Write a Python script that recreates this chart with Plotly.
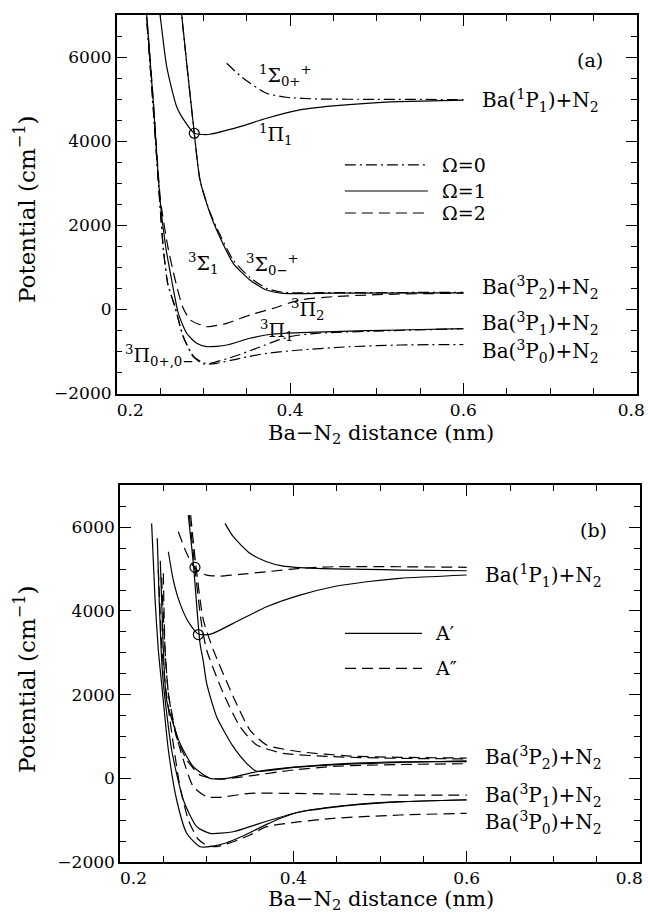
import plotly.graph_objects as go

# ---------------- data: panel (a) ----------------
a_1S0p_x = [0.3269, 0.346, 0.373, 0.396, 0.4307, 0.5, 0.6]
a_1S0p_y = [5852, 5495, 5139, 5044, 5004, 4995, 4990]

a_1P1_x = [0.2475, 0.25, 0.2577, 0.2692, 0.2788, 0.2895, 0.2961, 0.3076, 0.3422, 0.373, 0.4114, 0.4498, 0.4884, 0.5268, 0.6]
a_1P1_y = [7300, 7000, 5771, 4820, 4463, 4188, 4164, 4164, 4345, 4544, 4742, 4837, 4901, 4939, 4975]

a_3S1_x = [0.274, 0.275, 0.2895, 0.2961, 0.3076, 0.3153, 0.3345, 0.3537, 0.373, 0.3921, 0.45, 0.6]
a_3S1_y = [7300, 7000, 4188, 3077, 2285, 1888, 1096, 699, 461, 383, 385, 395]
a_3S0m_y = [7300, 7000, 4188, 3077, 2310, 1940, 1170, 760, 500, 405, 400, 405]

a_3P2_x = [0.2335, 0.2346, 0.2422, 0.2505, 0.2590, 0.2675, 0.2760, 0.2850, 0.3038, 0.3269, 0.3537, 0.3806, 0.4114, 0.4498, 0.4884, 0.5268, 0.6]
a_3P2_y = [7300, 7000, 4979, 2601, 1491, 699, 64, -252, -411, -331, -133, 26, 223, 302, 342, 366, 385]

a_3P1_x = [0.2335, 0.2346, 0.2420, 0.2500, 0.2565, 0.2634, 0.2711, 0.2807, 0.2923, 0.3038, 0.3269, 0.3537, 0.3806, 0.4114, 0.4498, 0.4884, 0.5268, 0.6]
a_3P1_y = [7300, 7000, 4979, 2601, 1491, 699, -93, -568, -806, -887, -847, -687, -585, -554, -530, -507, -490, -455]

a_3P0a_x = [0.2330, 0.2342, 0.2415, 0.2495, 0.2540, 0.2590, 0.2672, 0.2768, 0.2884, 0.2999, 0.3153, 0.3422, 0.373, 0.4114, 0.469, 0.5268, 0.6]
a_3P0a_y = [7300, 7000, 4979, 2601, 1400, 600, 64, -649, -1125, -1299, -1282, -1163, -1044, -966, -887, -847, -835]

a_3P0b_x = [0.2330, 0.2342, 0.2415, 0.2495, 0.2540, 0.2590, 0.2672, 0.2768, 0.2884, 0.2999, 0.3076, 0.3345, 0.3614, 0.3845, 0.4037, 0.4306, 0.5, 0.6]
a_3P0b_y = [7300, 7000, 4979, 2601, 1400, 600, 64, -649, -1110, -1270, -1282, -1125, -925, -744, -633, -568, -515, -460]

a_circ_x = [0.2895]
a_circ_y = [4188]

# ---------------- data: panel (b) ----------------
b_1_x = [0.3212, 0.3307, 0.35, 0.3692, 0.3884, 0.427, 0.4846, 0.523, 0.6]
b_1_y = [6095, 5775, 5378, 5177, 5074, 5019, 4996, 4979, 4962]

b_2_x = [0.2673, 0.2769, 0.2865, 0.3, 0.3154, 0.3385, 0.3692, 0.4077, 0.4461, 0.523, 0.6]
b_2_y = [5894, 5378, 5019, 4859, 4835, 4876, 4938, 5019, 5058, 5058, 5045]

b_3_x = [0.2558, 0.2615, 0.2692, 0.2788, 0.2904, 0.3038, 0.3307, 0.3692, 0.4077, 0.4461, 0.4846, 0.523, 0.6]
b_3_y = [5416, 4740, 4183, 3743, 3450, 3440, 3705, 4102, 4381, 4580, 4699, 4780, 4860]

b_4_x = [0.2788, 0.2846, 0.2923, 0.2961, 0.3, 0.3115, 0.3307, 0.3461, 0.3577, 0.4, 0.45, 0.6]
b_4_y = [6293, 5139, 3230, 2800, 2271, 1473, 756, 359, 170, 260, 330, 420]

b_11_x = [0.2800, 0.2860, 0.2940, 0.3, 0.3192, 0.3385, 0.3577, 0.3884, 0.4461, 0.523, 0.6]
b_11_y = [6293, 5100, 3700, 3067, 2032, 1234, 796, 598, 517, 478, 465]

b_12_x = [0.2815, 0.2875, 0.2960, 0.3077, 0.3307, 0.35, 0.3692, 0.4077, 0.4654, 0.523, 0.6]
b_12_y = [6293, 5100, 3800, 3067, 1951, 1155, 796, 636, 533, 502, 485]

b_6_x = [0.2465, 0.2485, 0.2500, 0.2538, 0.2692, 0.2846, 0.3038, 0.323, 0.3577, 0.4077, 0.4654, 0.523, 0.6]
b_6_y = [5200, 4000, 3067, 1872, 837, 278, 0, 0, 158, 278, 359, 397, 400]

b_6d_x = [0.2480, 0.2520, 0.2560, 0.2650, 0.2769, 0.2923, 0.3154, 0.35, 0.4, 0.45, 0.523, 0.6]
b_6d_y = [4800, 3067, 2000, 1000, 450, 80, -20, 60, 200, 290, 330, 350]

b_7_x = [0.2500, 0.2520, 0.2560, 0.2654, 0.2731, 0.2846, 0.3, 0.3154, 0.35, 0.3884, 0.4461, 0.523, 0.6]
b_7_y = [4900, 3067, 2000, 1000, 438, -200, -439, -454, -358, -358, -375, -399, -400]

b_8_x = [0.243, 0.2450, 0.2475, 0.25, 0.2596, 0.2731, 0.2885, 0.3038, 0.3307, 0.3615, 0.4077, 0.4654, 0.523, 0.6]
b_8_y = [5737, 4400, 3067, 2271, 677, -518, -1156, -1314, -1276, -1075, -798, -638, -559, -518]

b_9_x = [0.2365, 0.2404, 0.2442, 0.2480, 0.2558, 0.2654, 0.277, 0.2923, 0.3077, 0.323, 0.3384, 0.3538, 0.3692, 0.3884, 0.4077, 0.4654, 0.523, 0.6]
b_9_y = [6095, 4300, 3067, 2271, 677, -518, -1314, -1634, -1620, -1540, -1410, -1260, -1100, -930, -805, -645, -562, -512]

b_10_x = [0.2442, 0.2485, 0.2519, 0.2596, 0.2692, 0.279, 0.29, 0.30, 0.3115, 0.3307, 0.35, 0.3692, 0.4077, 0.4461, 0.523, 0.6]
b_10_y = [5000, 3067, 2300, 1100, -200, -1000, -1450, -1600, -1634, -1515, -1355, -1156, -1037, -956, -877, -836]

b_circ_x = [0.2865, 0.2904]
b_circ_y = [5043, 3437]

x_ticks = [0.2, 0.4, 0.6, 0.8]
x_ticktext_a = ["\u00a0\u00a0\u00a0\u00a0\u00a00.2", "0.4", "0.6", "0.8\u00a0\u00a0"]
x_ticktext_b = ["\u00a0\u00a0\u00a0\u00a0\u00a00.2", "0.4", "0.6", "0.8\u00a0\u00a0\u00a0\u00a0"]
y_ticks = [-2000, 0, 2000, 4000, 6000]
y_ticktext = ["\u22122000", "0", "2000", "4000", "6000"]

# ---------------- styles ----------------
FONT = "DejaVu Serif"
SOLID = "solid"
DASH = "11px,6px"
DASHDOT = "11px,4px,2px,4px"
LW = 1.2

fig = go.Figure()

def add(x, y, dash, xa, ya):
    fig.add_trace(go.Scatter(x=x, y=y, mode="lines", xaxis=xa, yaxis=ya,
                             line=dict(color="black", width=LW, dash=dash, shape="spline", smoothing=0.6),
                             showlegend=False, hoverinfo="skip"))

# panel (a)
add(a_1S0p_x, a_1S0p_y, DASHDOT, "x", "y")
add(a_1P1_x, a_1P1_y, SOLID, "x", "y")
add(a_3S1_x, a_3S1_y, SOLID, "x", "y")
add(a_3S1_x, a_3S0m_y, DASHDOT, "x", "y")
add(a_3P2_x, a_3P2_y, DASH, "x", "y")
add(a_3P1_x, a_3P1_y, SOLID, "x", "y")
add(a_3P0a_x, a_3P0a_y, DASHDOT, "x", "y")
add(a_3P0b_x, a_3P0b_y, DASHDOT, "x", "y")
fig.add_trace(go.Scatter(x=a_circ_x, y=a_circ_y, mode="markers", xaxis="x", yaxis="y",
                         marker=dict(symbol="circle-open", size=10, color="black", line=dict(width=1.2)),
                         showlegend=False, hoverinfo="skip"))

# panel (b)
for xs, ys, d in [(b_1_x, b_1_y, SOLID), (b_2_x, b_2_y, DASH), (b_3_x, b_3_y, SOLID),
                  (b_4_x, b_4_y, SOLID), (b_11_x, b_11_y, DASH), (b_12_x, b_12_y, DASH),
                  (b_6_x, b_6_y, SOLID), (b_6d_x, b_6d_y, DASH), (b_7_x, b_7_y, DASH),
                  (b_8_x, b_8_y, SOLID), (b_9_x, b_9_y, SOLID), (b_10_x, b_10_y, DASH)]:
    add(xs, ys, d, "x2", "y2")
fig.add_trace(go.Scatter(x=b_circ_x, y=b_circ_y, mode="markers", xaxis="x2", yaxis="y2",
                         marker=dict(symbol="circle-open", size=10, color="black", line=dict(width=1.2)),
                         showlegend=False, hoverinfo="skip"))

def xaxis(domain, anchor, ticktext):
    return dict(domain=domain, anchor=anchor, range=[0.2, 0.8], tickvals=x_ticks, ticktext=ticktext,
                ticks="inside", ticklen=11, tickwidth=1.2, tickcolor="black",
                showline=True, linecolor="black", linewidth=1.5, mirror="allticks",
                minor=dict(dtick=0.05, ticks="inside", ticklen=6, tickwidth=1.0, tickcolor="black"),
                showgrid=False, zeroline=False, automargin=False, ticklabeloverflow="allow",
                tickfont=dict(family=FONT, size=17, color="black"))

def yaxis(domain, anchor):
    return dict(domain=domain, anchor=anchor, range=[-2000, 7000], tickvals=y_ticks, ticktext=y_ticktext,
                ticks="inside", ticklen=11, tickwidth=1.2, tickcolor="black",
                showline=True, linecolor="black", linewidth=1.5, mirror="allticks",
                minor=dict(dtick=500, ticks="inside", ticklen=6, tickwidth=1.0, tickcolor="black"),
                showgrid=False, zeroline=False, automargin=False, ticklabeloverflow="allow",
                tickfont=dict(family=FONT, size=17, color="black"))

ann = []
def lab(text, x, y, xref, yref, size=19, xanchor="center"):
    ann.append(dict(text=text, x=x, y=y, xref=xref, yref=yref, showarrow=False,
                    xanchor=xanchor, yanchor="middle", font=dict(family=FONT, size=size, color="black")))

# panel (a) labels
lab("<sup>1</sup>\u03a3<sub>0+</sub><sup>+</sup>", 0.3953, 5550, "x", "y")
lab("<sup>1</sup>\u03a0<sub>1</sub>", 0.3837, 4147, "x", "y")
lab("<sup>3</sup>\u03a3<sub>1</sub>", 0.2995, 1080, "x", "y")
lab("<sup>3</sup>\u03a3<sub>0\u2212</sub><sup>+</sup>", 0.380, 1056, "x", "y")
lab("<sup>3</sup>\u03a0<sub>2</sub>", 0.4207, -14, "x", "y")
lab("<sup>3</sup>\u03a0<sub>1</sub>", 0.385, -490, "x", "y")
lab("<sup>3</sup>\u03a0<sub>0+,0\u2212</sub>", 0.2073, -1108, "x", "y", xanchor="left")
lab("(a)", 0.746, 5931, "x", "y")
for t, yy in [("Ba(<sup>1</sup>P<sub>1</sub>)+N<sub>2</sub>", 4977),
              ("Ba(<sup>3</sup>P<sub>2</sub>)+N<sub>2</sub>", 509),
              ("Ba(<sup>3</sup>P<sub>1</sub>)+N<sub>2</sub>", -324),
              ("Ba(<sup>3</sup>P<sub>0</sub>)+N<sub>2</sub>", -1013)]:
    lab(t, 0.619, yy, "x", "y", xanchor="left", size=20)
for t, yy in [("\u03a9=0", 3434), ("\u03a9=1", 2815), ("\u03a9=2", 2292)]:
    lab(t, 0.5729, yy, "x", "y", xanchor="left")

# panel (b) labels
lab("(b)", 0.746, 5931, "x2", "y2")
for t, yy in [("Ba(<sup>1</sup>P<sub>1</sub>)+N<sub>2</sub>", 4859),
              ("Ba(<sup>3</sup>P<sub>2</sub>)+N<sub>2</sub>", 486),
              ("Ba(<sup>3</sup>P<sub>1</sub>)+N<sub>2</sub>", -399),
              ("Ba(<sup>3</sup>P<sub>0</sub>)+N<sub>2</sub>", -1044)]:
    lab(t, 0.6188, yy, "x2", "y2", xanchor="left", size=20)
lab("A\u2032", 0.561, 3466, "x2", "y2", xanchor="left")
lab("A\u2033", 0.561, 2629, "x2", "y2", xanchor="left")

# axis titles
for yc in [1 - 210 / 913, 1 - 680 / 913]:
    ann.append(dict(text="Potential (cm<sup>\u22121</sup>)", x=25 / 648, y=yc, xref="paper", yref="paper",
                    showarrow=False, textangle=-90, xanchor="center", yanchor="middle",
                    font=dict(family=FONT, size=23, color="black")))
for yc in [1 - 434 / 913, 1 - 900 / 913]:
    ann.append(dict(text="Ba\u2212N<sub>2</sub> distance (nm)", x=381 / 648, y=yc, xref="paper", yref="paper",
                    showarrow=False, xanchor="center", yanchor="middle",
                    font=dict(family=FONT, size=21, color="black")))

shapes = []
def legline(x0, x1, y, dash, xref, yref):
    shapes.append(dict(type="line", x0=x0, x1=x1, y0=y, y1=y, xref=xref, yref=yref,
                       line=dict(color="black", width=LW, dash=dash)))

legline(0.4633, 0.5591, 3434, DASHDOT, "x", "y")
legline(0.4633, 0.5591, 2815, SOLID, "x", "y")
legline(0.4633, 0.5591, 2292, DASH, "x", "y")
legline(0.4596, 0.5485, 3466, SOLID, "x2", "y2")
legline(0.4596, 0.5485, 2629, DASH, "x2", "y2")

fig.update_layout(
    width=648, height=913,
    margin=dict(l=0, r=0, t=0, b=0),
    paper_bgcolor="white", plot_bgcolor="white",
    xaxis=xaxis([116.7 / 648, 636.7 / 648], "y", x_ticktext_a),
    yaxis=yaxis([0.5690, 0.98357], "x"),
    xaxis2=xaxis([120 / 648, 640 / 648], "y2", x_ticktext_b),
    yaxis2=yaxis([0.05586, 0.46824], "x2"),
    annotations=ann, shapes=shapes, showlegend=False,
)

fig.write_html("out.html", config={"displayModeBar": False},
               post_script="document.body.style.margin='0';document.body.style.padding='0';document.body.style.overflow='hidden';")
